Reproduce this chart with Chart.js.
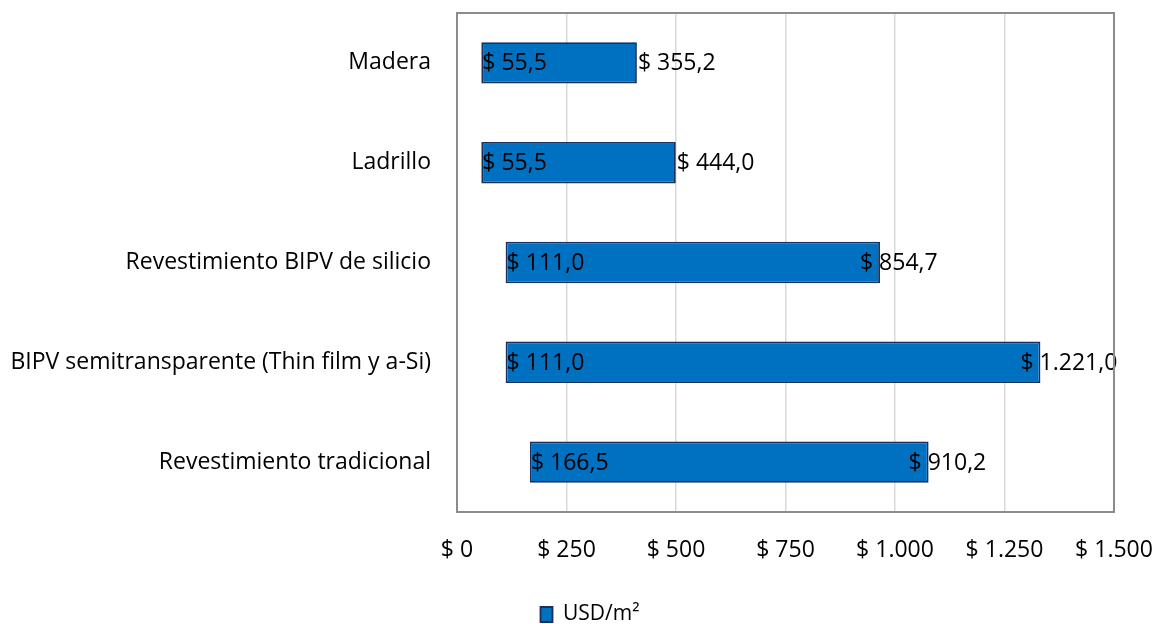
<!DOCTYPE html>
<html>
<head>
<meta charset="utf-8">
<script src="https://cdn.jsdelivr.net/npm/chart.js@4/dist/chart.umd.min.js"></script>
<style>
    html, body { margin: 0; padding: 0; background: #fff; }
    #wrap { width: 1156px; height: 624px; }
</style>
</head>
<body>
<div id="wrap"><canvas id="costChart" width="1156" height="624"></canvas></div>
<script>
// Chart data
const categories = [
    "Madera",
    "Ladrillo",
    "Revestimiento BIPV de silicio",
    "BIPV semitransparente (Thin film y a-Si)",
    "Revestimiento tradicional"
];
const startValues = [55.5, 55.5, 111.0, 111.0, 166.5];   // lower cost (bar start)
const rangeValues = [355.2, 444.0, 854.7, 1221.0, 910.2]; // range shown at bar end
const tickValues = [0, 250, 500, 750, 1000, 1250, 1500];
const seriesName = "USD/m\u00B2";

const FONT = "'Open Sans', 'Noto Sans', sans-serif";
const FONT_SIZE = 23;

// "$ 1.221,0" style number formatting
function money(v, decimals) {
    const parts = v.toFixed(decimals).split(".");
    parts[0] = parts[0].replace(/\B(?=(\d{3})+(?!\d))/g, ".");
    return "$ " + parts.join(",");
}

// drop the extra edge padding Chart.js adds for tick labels
function noScalePadding(scale) {
    scale.paddingTop = 0;
    scale.paddingBottom = 0;
    scale.paddingLeft = 0;
    scale.paddingRight = 0;
}

// Value labels: start value inside the bar, range value at the bar end
const valueLabels = {
    id: "valueLabels",
    afterDatasetsDraw(chart) {
        const ctx = chart.ctx;
        const meta = chart.getDatasetMeta(0);
        ctx.save();
        ctx.font = FONT_SIZE + "px " + FONT;
        ctx.fillStyle = "#000";
        ctx.textBaseline = "middle";
        ctx.textAlign = "left";
        meta.data.forEach((bar, i) => {
            const left = Math.min(bar.x, bar.base);
            const right = Math.max(bar.x, bar.base);
            ctx.fillText(money(startValues[i], 1), left + 1, bar.y + 1);
            const shift = rangeValues[i] > 800 ? -21 : 0;
            ctx.fillText(money(rangeValues[i], 1), right + 1 + shift, bar.y + 1);
        });
        ctx.restore();
    }
};

// Grey frame round the plot area
const plotFrame = {
    id: "plotFrame",
    afterDatasetsDraw(chart) {
        const a = chart.chartArea;
        const ctx = chart.ctx;
        ctx.save();
        ctx.strokeStyle = "#8c8c8c";
        ctx.lineWidth = 2;
        ctx.strokeRect(a.left, a.top, a.right - a.left, a.bottom - a.top);
        ctx.restore();
    }
};

// nudge the legend to where the original sits
const legendNudge = {
    id: "legendNudge",
    afterLayout(chart) {
        const lg = chart.legend;
        if (!lg) return;
        lg.left += 33; lg.right += 33;
        lg.top += 11; lg.bottom += 11;
    }
};

const ctx = document.getElementById("costChart").getContext("2d");
new Chart(ctx, {
    type: "bar",
    data: {
        labels: categories,
        datasets: [{
            label: seriesName,
            data: startValues.map((s, i) => [s, s + rangeValues[i]]),
            backgroundColor: "#0070C0",
            borderColor: "#1A2F5C",
            borderWidth: 1.8,
            borderSkipped: false,
            barPercentage: 0.83,
            categoryPercentage: 0.5
        }]
    },
    options: {
        indexAxis: "y",
        responsive: false,
        animation: false,
        layout: { padding: { left: 0, right: 42, top: 13, bottom: 0 } },
        plugins: {
            legend: {
                position: "bottom",
                labels: {
                    font: { family: FONT, size: 21 },
                    color: "#000",
                    boxWidth: 12,
                    boxHeight: 15,
                    padding: 8
                }
            },
            tooltip: { enabled: false }
        },
        scales: {
            x: {
                min: 0,
                max: 1500,
                afterBuildTicks: (scale) => {
                    scale.ticks = tickValues.map(v => ({ value: v }));
                },
                afterFit: (scale) => {
                    scale.height = 73;
                    noScalePadding(scale);
                },
                ticks: {
                    color: "#000",
                    font: { family: FONT, size: FONT_SIZE },
                    padding: 25,
                    maxRotation: 0,
                    callback: (v) => money(v, 0)
                },
                grid: { color: "#d9d9d9", lineWidth: 1.5, drawTicks: false },
                border: { display: false }
            },
            y: {
                afterFit: (scale) => {
                    scale.width = 457;
                    noScalePadding(scale);
                },
                ticks: {
                    color: "#000",
                    font: { family: FONT, size: FONT_SIZE },
                    padding: 18
                },
                grid: { display: false },
                border: { display: false }
            }
        }
    },
    plugins: [valueLabels, plotFrame, legendNudge]
});
</script>
</body>
</html>
